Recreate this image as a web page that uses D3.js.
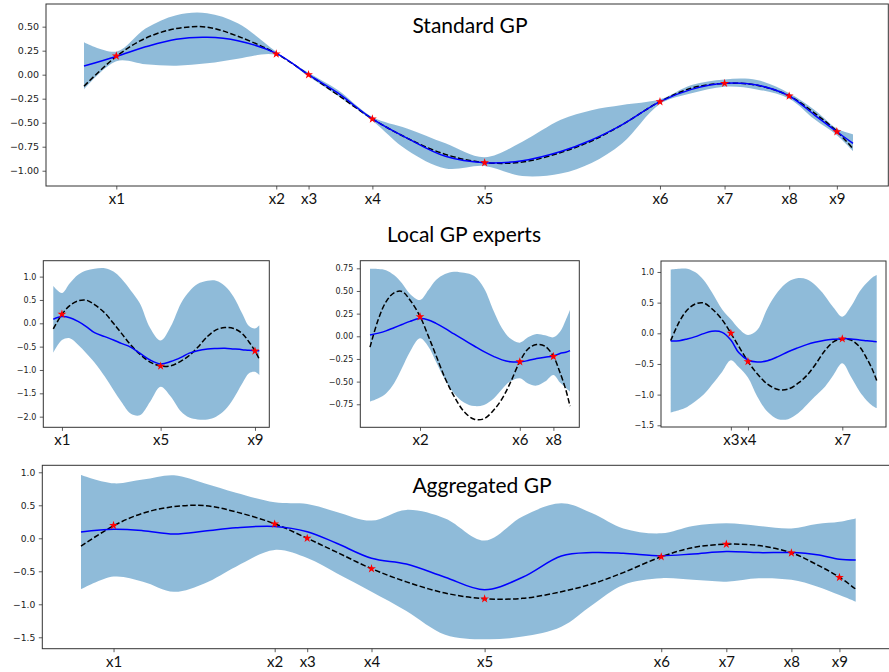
<!DOCTYPE html>
<html>
<head>
<meta charset="utf-8">
<script src="https://cdn.jsdelivr.net/npm/d3@7"></script>
<style>
  body { margin: 0; background: #fff; }
  svg { display: block; }
</style>
</head>
<body>
<svg id="fig" width="889" height="672"></svg>
<script>
// Input locations (shared by every panel) and the latent function.
const grid  = [0, 0.42, 0.8, 1.2, 1.6, 2.0, 2.5, 2.92, 3.3, 3.75, 4.2, 4.7, 5.21, 5.7, 6.2, 6.6, 7.0, 7.49, 7.9, 8.33, 8.75, 9.17, 9.5, 9.79, 10];
const truth = [-0.12, 0.19, 0.38, 0.48, 0.495, 0.40, 0.22, 0.0, -0.21, -0.46, -0.66, -0.83, -0.915, -0.91, -0.81, -0.69, -0.52, -0.28, -0.14, -0.09, -0.11, -0.22, -0.40, -0.59, -0.77];

// Training points
const obsNames = ["x1", "x2", "x3", "x4", "x5", "x6", "x7", "x8", "x9"];
const obsT     = [0.42, 2.5, 2.92, 3.75, 5.21, 7.49, 8.33, 9.17, 9.79];
const obsY     = [0.195, 0.216, 0.0, -0.461, -0.917, -0.281, -0.09, -0.222, -0.594];

// Standard GP posterior
const stdMean = [0.09, 0.19, 0.29, 0.37, 0.39, 0.354, 0.222, 0.0, -0.19, -0.46, -0.66, -0.85, -0.917, -0.896, -0.80, -0.68, -0.52, -0.281, -0.153, -0.09, -0.108, -0.222, -0.42, -0.594, -0.715];
const stdLo   = [-0.153, 0.14, 0.108, 0.094, 0.118, 0.167, 0.205, -0.02, -0.22, -0.48, -0.785, -0.976, -0.95, -1.056, -1.03, -0.92, -0.715, -0.306, -0.194, -0.125, -0.153, -0.25, -0.465, -0.63, -0.795];
const stdHi   = [0.337, 0.24, 0.48, 0.62, 0.64, 0.535, 0.24, 0.02, -0.16, -0.44, -0.56, -0.715, -0.86, -0.698, -0.47, -0.37, -0.316, -0.257, -0.108, -0.049, -0.056, -0.194, -0.368, -0.56, -0.62];

// Local expert 1 (x1, x5, x9)
const e1Mean = [0.086, 0.143, 0.12, 0.04, -0.07, -0.20, -0.286, -0.357, -0.43, -0.51, -0.64, -0.786, -0.87, -0.82, -0.73, -0.64, -0.586, -0.55, -0.54, -0.536, -0.55, -0.565, -0.58, -0.586, -0.586];
const e1Lo   = [-0.63, -0.36, -0.32, -0.46, -0.64, -0.84, -1.14, -1.43, -1.68, -1.93, -1.97, -1.68, -1.36, -1.57, -1.89, -2.02, -2.06, -2.06, -2.0, -1.86, -1.61, -1.29, -1.07, -1.04, -1.11];
const e1Hi   = [0.80, 0.65, 0.86, 1.04, 1.13, 1.17, 1.18, 1.11, 0.96, 0.71, 0.43, -0.10, -0.37, -0.07, 0.43, 0.68, 0.84, 0.91, 0.91, 0.80, 0.57, 0.21, -0.06, -0.11, -0.04];

// Local expert 2 (x2, x6, x8)
const e2Mean = [0.015, 0.035, 0.06, 0.095, 0.13, 0.165, 0.195, 0.18, 0.143, 0.088, 0.026, -0.04, -0.107, -0.17, -0.224, -0.26, -0.28, -0.283, -0.268, -0.246, -0.23, -0.217, -0.19, -0.176, -0.158];
const e2Lo   = [-0.72, -0.684, -0.63, -0.52, -0.35, -0.17, -0.022, -0.114, -0.28, -0.48, -0.63, -0.73, -0.77, -0.757, -0.684, -0.585, -0.50, -0.463, -0.52, -0.544, -0.50, -0.426, -0.51, -0.57, -0.61];
const e2Hi   = [0.746, 0.743, 0.73, 0.676, 0.585, 0.467, 0.40, 0.51, 0.62, 0.687, 0.713, 0.70, 0.665, 0.53, 0.27, 0.088, -0.022, -0.07, -0.011, 0.026, 0.011, -0.011, 0.05, 0.18, 0.29];

// Local expert 3 (x3, x4, x7)
const e3Mean = [-0.125, -0.12, -0.092, -0.054, -0.005, 0.033, 0.016, -0.11, -0.315, -0.435, -0.467, -0.446, -0.38, -0.30, -0.234, -0.185, -0.147, -0.114, -0.098, -0.087, -0.092, -0.109, -0.12, -0.13, -0.136];
const e3Lo   = [-1.29, -1.25, -1.20, -1.11, -1.0, -0.84, -0.625, -0.44, -0.55, -0.72, -1.03, -1.28, -1.40, -1.40, -1.30, -1.17, -1.03, -0.87, -0.68, -0.49, -0.71, -0.95, -1.09, -1.18, -1.22];
const e3Hi   = [1.04, 1.054, 1.054, 0.995, 0.87, 0.67, 0.39, 0.228, 0.08, -0.027, 0.054, 0.41, 0.68, 0.84, 0.90, 0.88, 0.79, 0.61, 0.42, 0.27, 0.435, 0.68, 0.815, 0.91, 0.95];

// Aggregated GP posterior
const aggMean = [0.096, 0.136, 0.116, 0.066, 0.11, 0.16, 0.18, 0.10, -0.076, -0.303, -0.39, -0.59, -0.78, -0.59, -0.268, -0.217, -0.227, -0.265, -0.237, -0.20, -0.217, -0.217, -0.25, -0.318, -0.328];
const aggLo   = [-0.773, -0.58, -0.657, -0.81, -0.68, -0.43, -0.177, -0.30, -0.53, -0.81, -1.1, -1.46, -1.53, -1.49, -1.34, -1.01, -0.707, -0.606, -0.63, -0.657, -0.606, -0.63, -0.73, -0.86, -0.96];
const aggHi   = [0.96, 0.833, 0.89, 0.955, 0.83, 0.69, 0.545, 0.52, 0.40, 0.268, 0.43, 0.30, -0.035, 0.33, 0.53, 0.38, 0.15, 0.076, 0.187, 0.227, 0.187, 0.15, 0.217, 0.25, 0.30];

// Tick values
const ticksStd = [-1.0, -0.75, -0.5, -0.25, 0, 0.25, 0.5];
const ticksE1  = [-2.0, -1.5, -1.0, -0.5, 0, 0.5, 1.0];
const ticksE2  = [-0.75, -0.5, -0.25, 0, 0.25, 0.5, 0.75];
const ticksE3  = [-1.5, -1.0, -0.5, 0, 0.5, 1.0];
const ticksAgg = [-1.5, -1.0, -0.5, 0, 0.5, 1.0];

const svg = d3.select("#fig");

const panels = [
  { id: "std", frame: [46, 888.3, 4, 186], span: [84, 853], yDomain: [-1.159, 0.736],
    mean: stdMean, lo: stdLo, hi: stdHi, pts: [0,1,2,3,4,5,6,7,8],
    yTicks: ticksStd, fmt: d3.format(".2f"), yFont: 9.5 },
  { id: "e1", frame: [43.3, 269.3, 260.7, 427.3], span: [53.3, 259.3], yDomain: [-2.228, 1.341],
    mean: e1Mean, lo: e1Lo, hi: e1Hi, pts: [0,4,8],
    yTicks: ticksE1, fmt: d3.format(".1f"), yFont: 8 },
  { id: "e2", frame: [360.3, 579.3, 260.7, 427.3], span: [370, 570], yDomain: [-1.004, 0.834],
    mean: e2Mean, lo: e2Lo, hi: e2Hi, pts: [1,5,7],
    yTicks: ticksE2, fmt: d3.format(".2f"), yFont: 8 },
  { id: "e3", frame: [661, 886, 261, 427], span: [670.7, 876.7], yDomain: [-1.528, 1.179],
    mean: e3Mean, lo: e3Lo, hi: e3Hi, pts: [2,3,6],
    yTicks: ticksE3, fmt: d3.format(".1f"), yFont: 8 },
  { id: "agg", frame: [42.3, 894, 465.3, 648.7], span: [81, 855.7], yDomain: [-1.673, 1.106],
    mean: aggMean, lo: aggLo, hi: aggHi, pts: [0,1,2,3,4,5,6,7,8],
    yTicks: ticksAgg, fmt: d3.format(".1f"), yFont: 9.2 }
];

const idx = d3.range(grid.length);
const curve = d3.curveCatmullRom.alpha(0.5);

panels.forEach(p => {
  const [l, r, t, b] = p.frame;
  const x = d3.scaleLinear().domain([0, 10]).range(p.span);
  const y = d3.scaleLinear().domain(p.yDomain).range([b, t]);
  const g = svg.append("g");

  g.append("clipPath").attr("id", "clip-" + p.id)
    .append("rect").attr("x", l).attr("y", t).attr("width", r - l).attr("height", b - t);
  const plot = g.append("g").attr("clip-path", `url(#clip-${p.id})`);

  // confidence band
  plot.append("path")
    .attr("d", d3.area().curve(curve)
      .x(i => x(grid[i])).y0(i => y(p.lo[i])).y1(i => y(p.hi[i]))(idx))
    .attr("fill", "#1f77b4").attr("fill-opacity", 0.5);

  // latent function
  plot.append("path")
    .attr("d", d3.line().curve(curve).x(i => x(grid[i])).y(i => y(truth[i]))(idx))
    .attr("fill", "none").attr("stroke", "#000").attr("stroke-width", 1.5)
    .attr("stroke-dasharray", "5.5,2.4");

  // predictive mean
  plot.append("path")
    .attr("d", d3.line().curve(curve).x(i => x(grid[i])).y(i => y(p.mean[i]))(idx))
    .attr("fill", "none").attr("stroke", "#0000ff").attr("stroke-width", 1.5);

  // training points
  plot.selectAll("path.obs").data(p.pts).join("path")
    .attr("class", "obs")
    .attr("transform", k => `translate(${x(obsT[k])},${y(obsY[k])})`)
    .attr("d", d3.symbol(d3.symbolStar, 24))
    .attr("fill", "#ff0000");

  // axes
  const yAxis = g.append("g").attr("transform", `translate(${l},0)`)
    .call(d3.axisLeft(y).tickValues(p.yTicks).tickFormat(p.fmt).tickSize(3.5).tickPadding(3.5));
  yAxis.select(".domain").remove();
  yAxis.selectAll("line").attr("stroke", "#333").attr("stroke-width", 0.8);
  yAxis.selectAll("text").attr("font-family", "DejaVu Sans").attr("font-size", p.yFont).attr("fill", "#222");

  const xAxis = g.append("g").attr("transform", `translate(0,${b})`)
    .call(d3.axisBottom(x).tickValues(p.pts.map(k => obsT[k]))
      .tickFormat((d, i) => obsNames[p.pts[i]]).tickSize(3.5).tickPadding(4));
  xAxis.select(".domain").remove();
  xAxis.selectAll("line").attr("stroke", "#333").attr("stroke-width", 0.8);
  xAxis.selectAll("text").attr("font-family", "Lato").attr("font-size", 15).attr("fill", "#111");

  // frame
  g.append("rect").attr("x", l).attr("y", t).attr("width", r - l).attr("height", b - t)
    .attr("fill", "none").attr("stroke", "#333").attr("stroke-width", 1);
});

// titles
const titles = [
  { text: "Standard GP", x: 470, y: 33.3 },
  { text: "Local GP experts", x: 464, y: 241.7 },
  { text: "Aggregated GP", x: 482, y: 493.3 }
];
svg.selectAll("text.title").data(titles).join("text")
  .attr("class", "title")
  .attr("x", d => d.x).attr("y", d => d.y)
  .attr("text-anchor", "middle")
  .attr("font-family", "Lato").attr("font-size", 21).attr("fill", "#000")
  .text(d => d.text);
</script>
</body>
</html>
